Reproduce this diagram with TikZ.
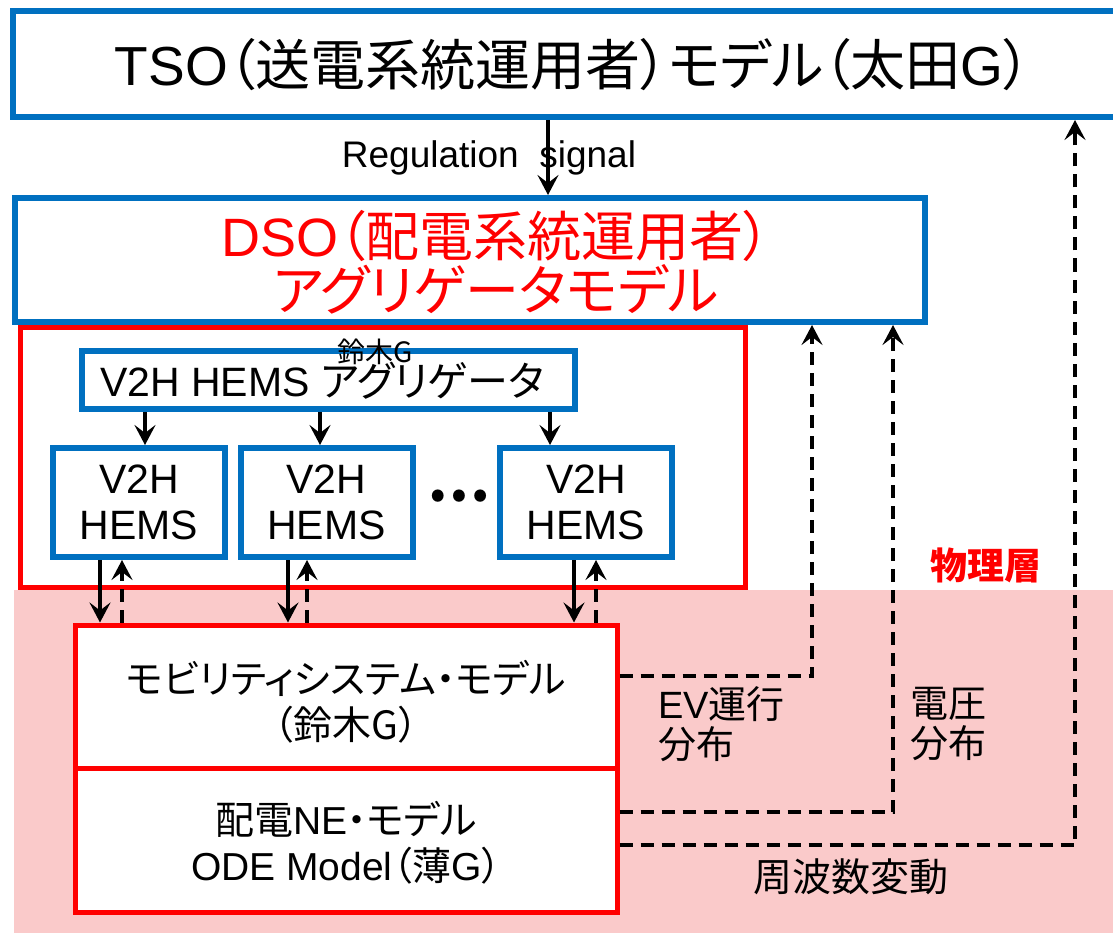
\documentclass[tikz,border=0pt]{standalone}
\usepackage{fontspec}
\setmainfont{Liberation Sans}
\newfontfamily\jp[RawFeature=+palt]{Noto Sans CJK JP}
\newfontfamily\jpw{Noto Sans CJK JP}
\usetikzlibrary{arrows.meta}
\definecolor{bl}{RGB}{0,112,192}
\definecolor{rd}{RGB}{255,0,0}
\definecolor{pk}{RGB}{250,202,202}
\tikzset{
  bbox/.style={draw=bl, line width=6pt, fill=white, inner sep=0pt},
  rbox/.style={draw=rd, line width=5pt, fill=white, inner sep=0pt},
  arr/.style={line width=4pt, -{Stealth[length=20pt,width=21pt,inset=8pt]}},
  darr/.style={line width=3.5pt, -{Stealth[length=20pt,width=21pt,inset=8pt]}, dash pattern=on 13pt off 8pt},
  txt/.style={inner sep=0pt, align=center},
}
\begin{document}
\begin{tikzpicture}[x=1pt,y=-1pt]
\useasboundingbox (0,0) rectangle (1113,933);
\fill[pk] (14,590) rectangle (1113,933);

% TSO
\node[bbox, minimum width=1115pt, minimum height=106pt] (tso) at (570,64) {};
\node[txt, font={\fontsize{55}{60}\selectfont}] (tsot) at (573,65) {TSO{\jp（送電系統運用者）モデル（太田}G{\jp）}};

% DSO
\node[bbox, minimum width=910pt, minimum height=124pt] (dso) at (470,260) {};
\node[txt, text=rd, font={\fontsize{54}{54}\selectfont}] (dsot) at (496,262) {DSO{\jp（配電系統運用者）}\\{\jp アグリゲータモデル}};

% Regulation signal
\draw[arr] (tso.south -| 548,0) -- (dso.north -| 548,0);
\node[txt, font={\fontsize{37}{40}\selectfont}] (reg) at (489,158) {Regulation\ \ signal};

% group
\node[rbox, minimum width=725pt, minimum height=260pt] (grp) at (382.5,457) {};
\node[bbox, minimum width=493pt, minimum height=58pt] (agg) at (328.5,380) {};
\node[txt, font={\fontsize{41}{44}\selectfont}] (aggt) at (322,381) {V2H HEMS {\jp アグリゲータ}};
\node[txt, font={\jp\fontsize{28}{30}\selectfont}] (suz) at (375,352) {鈴木G};

\node[bbox, minimum width=172pt, minimum height=109pt] (h1) at (139,502.5) {};
\node[bbox, minimum width=172pt, minimum height=109pt] (h2) at (326.5,502.5) {};
\node[bbox, minimum width=172pt, minimum height=109pt] (h3) at (586,502.5) {};
\foreach \h in {h1,h2,h3}{
  \node[txt, font={\fontsize{41}{46}\selectfont}] at (\h.center) {V2H\\HEMS};
}
\node[txt, font={\jpw\bfseries\fontsize{56}{58}\selectfont}] (dots) at (459,496) {…};

\draw[arr] (agg.south -| 145,0) -- (h1.north -| 145,0);
\draw[arr] (agg.south -| 320,0) -- (h2.north -| 320,0);
\draw[arr] (agg.south -| 550,0) -- (h3.north -| 550,0);

% mobility and NE
\node[rbox, minimum width=542pt, minimum height=143pt] (mob) at (346,696.5) {};
\node[rbox, minimum width=542pt, minimum height=144pt] (ne) at (346,840) {};
\node[txt, font={\jp\fontsize{39}{46}\selectfont}] (mobt) at (346,702) {モビリティシステム・モデル\\（鈴木G）};
\node[txt, font={\fontsize{39}{46}\selectfont}] (net) at (346,843) {{\jp 配電}NE{\jp ・モデル}\\ODE Model{\jp（薄}G{\jp）}};

\draw[arr] (h1.south -| 100,0) -- (mob.north -| 100,0);
\draw[darr] (mob.north -| 122,0) -- (h1.south -| 122,0);
\draw[arr] (h2.south -| 288,0) -- (mob.north -| 288,0);
\draw[darr] (mob.north -| 307,0) -- (h2.south -| 307,0);
\draw[arr] (h3.south -| 574,0) -- (mob.north -| 574,0);
\draw[darr] (mob.north -| 596,0) -- (h3.south -| 596,0);

% physical layer
\node[txt, text=rd, font={\jp\bfseries\fontsize{37}{38}\selectfont}] (phy) at (986,565) {物理層};

% dashed feedback
\draw[darr] (mob.east |- 0,676) -| (dso.south -| 812,0);
\draw[darr] (ne.east |- 0,812) -| (dso.south -| 893,0);
\draw[darr] (ne.east |- 0,845) -| (tso.south -| 1075,0);

\node[txt, anchor=west, align=left, font={\fontsize{38}{40}\selectfont}] (ev) at (658,724) {EV{\jp 運行}\\{\jp 分布}};
\node[txt, anchor=west, align=left, font={\jp\fontsize{38}{40}\selectfont}] (vol) at (910,724) {電圧\\分布};
\node[txt, font={\jp\fontsize{39}{40}\selectfont}] (freq) at (851,877) {周波数変動};
\end{tikzpicture}
\end{document}
